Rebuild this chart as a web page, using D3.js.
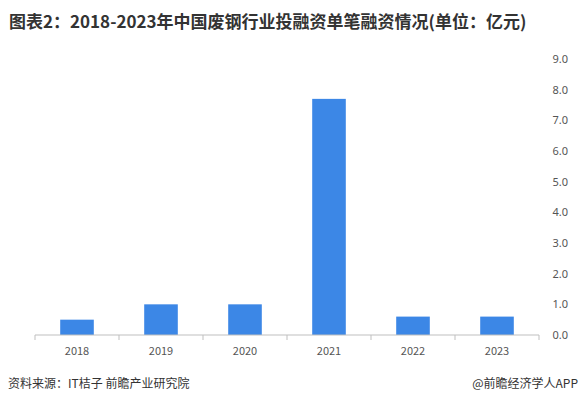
<!DOCTYPE html>
<html><head><meta charset="utf-8">
<script src="https://cdn.jsdelivr.net/npm/d3@7/dist/d3.min.js"></script>
<style>body{margin:0;background:#fff;font-family:"Noto Sans CJK SC","Noto Sans",sans-serif;}</style>
</head><body><div id="chart"></div>
<script>
const years = ["2018","2019","2020","2021","2022","2023"];
const amounts = [0.5, 1.0, 1.0, 7.7, 0.6, 0.6];
const yTicks = [0,1,2,3,4,5,6,7,8,9];

const W = 584, H = 406;
const svg = d3.select("#chart").append("svg").attr("width", W).attr("height", H);

svg.append("text").attr("x", 9).attr("y", 28)
  .attr("font-size", 17).attr("font-weight", "bold").attr("fill", "#333")
  .text("图表2：2018-2023年中国废钢行业投融资单笔融资情况(单位：亿元)");

const x = d3.scaleBand().domain(years).range([35, 539]).paddingInner(0.6).paddingOuter(0.3);
const y = d3.scaleLinear().domain([0, 9]).range([335, 59]);

svg.selectAll("rect.bar").data(amounts).enter().append("rect")
  .attr("class", "bar")
  .attr("x", (d, i) => x(years[i]))
  .attr("y", d => y(d))
  .attr("width", x.bandwidth())
  .attr("height", d => y(0) - y(d))
  .attr("fill", "#3c87e6");

// x axis
const step = x.step();
const xAxis = svg.append("g").attr("transform", "translate(0,335)");
xAxis.append("line").attr("x1", 35).attr("x2", 539).attr("stroke", "#bfbfbf");
xAxis.selectAll("line.tick").data(d3.range(years.length + 1)).enter().append("line")
  .attr("x1", i => 35 + i * step).attr("x2", i => 35 + i * step)
  .attr("y1", 0).attr("y2", 5).attr("stroke", "#bfbfbf");
xAxis.selectAll("text").data(years).enter().append("text")
  .attr("x", d => x(d) + x.bandwidth() / 2).attr("y", 20)
  .attr("text-anchor", "middle").attr("font-size", 11).attr("fill", "#555").text(d => d);

// y axis (right, labels only)
svg.append("g").attr("transform", "translate(568,0)")
  .call(d3.axisRight(y).tickValues(yTicks).tickFormat(d3.format(".1f")).tickSize(0))
  .call(g => g.select(".domain").remove())
  .call(g => g.selectAll("text").attr("text-anchor", "end").attr("x", 0)
    .attr("font-size", 11).attr("fill", "#555").attr("font-family", "Noto Sans, sans-serif"));

svg.append("text").attr("x", 8).attr("y", 388).attr("font-size", 12).attr("fill", "#333")
  .text("资料来源：IT桔子 前瞻产业研究院");
svg.append("text").attr("x", 578).attr("y", 388).attr("text-anchor", "end")
  .attr("font-size", 12).attr("fill", "#333").text("@前瞻经济学人APP");
</script></body></html>
